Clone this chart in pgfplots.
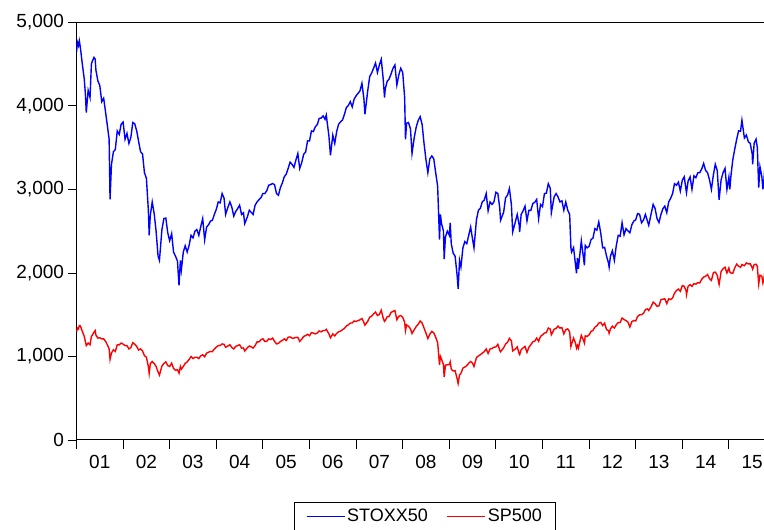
\documentclass[border=0pt]{standalone}
\usepackage{pgfplots}
\pgfplotsset{compat=1.18}
\usepackage{pgfplotstable}
\usepackage{fontspec}
\setmainfont{Liberation Sans}

\pgfplotstableread{
t s p
2001.000 4640 1290
2001.020 4760 1340
2001.042 4720 1330
2001.060 4780 1370
2001.083 4700 1366
2001.125 4500 1300
2001.167 4318 1240
2001.190 4150 1180
2001.210 3920 1130
2001.250 4185 1160
2001.290 4100 1140
2001.320 4500 1240
2001.333 4525 1249
2001.375 4580 1290
2001.400 4560 1310
2001.417 4426 1256
2001.458 4300 1220
2001.500 4243 1224
2001.542 4050 1210
2001.583 4091 1211
2001.625 3920 1180
2001.667 3744 1134
2001.700 3600 1090
2001.720 2880 966
2001.750 3297 1041
2001.792 3450 1080
2001.833 3478 1060
2001.875 3700 1140
2001.917 3658 1139
2001.958 3780 1160
2002.000 3806 1148
2002.042 3600 1130
2002.083 3670 1130
2002.125 3550 1090
2002.167 3624 1107
2002.208 3800 1165
2002.250 3785 1147
2002.292 3700 1120
2002.333 3574 1077
2002.375 3450 1090
2002.417 3425 1067
2002.458 3200 1010
2002.500 3133 990
2002.542 2750 880
2002.560 2450 797
2002.583 2685 912
2002.625 2850 940
2002.667 2710 916
2002.708 2500 880
2002.750 2204 815
2002.780 2150 777
2002.833 2519 886
2002.875 2650 915
2002.917 2657 936
2002.958 2480 890
2003.000 2386 880
2003.042 2470 920
2003.083 2249 856
2003.125 2200 835
2003.167 2141 841
2003.200 1850 800
2003.230 2150 880
2003.250 2036 848
2003.292 2250 880
2003.333 2325 917
2003.375 2250 935
2003.417 2330 964
2003.458 2450 1000
2003.500 2419 975
2003.542 2500 990
2003.583 2519 990
2003.625 2450 975
2003.667 2556 1008
2003.708 2650 1020
2003.750 2396 996
2003.792 2550 1040
2003.833 2575 1051
2003.875 2620 1060
2003.917 2631 1058
2003.958 2700 1090
2004.000 2761 1112
2004.042 2850 1130
2004.083 2839 1131
2004.125 2950 1150
2004.167 2894 1145
2004.200 2700 1110
2004.250 2787 1126
2004.292 2850 1140
2004.333 2788 1107
2004.375 2680 1090
2004.417 2736 1121
2004.458 2770 1130
2004.500 2811 1141
2004.542 2700 1100
2004.583 2720 1102
2004.610 2590 1065
2004.667 2671 1104
2004.708 2750 1125
2004.750 2726 1115
2004.790 2700 1100
2004.833 2811 1130
2004.875 2850 1175
2004.917 2877 1174
2004.958 2900 1200
2005.000 2951 1212
2005.042 2950 1180
2005.083 2984 1181
2005.125 3050 1210
2005.167 3058 1204
2005.208 3070 1220
2005.250 3056 1181
2005.292 2950 1150
2005.333 2930 1157
2005.375 3020 1180
2005.417 3076 1192
2005.458 3150 1210
2005.500 3182 1191
2005.542 3250 1230
2005.583 3326 1234
2005.625 3300 1220
2005.667 3263 1220
2005.708 3350 1230
2005.750 3429 1229
2005.790 3250 1180
2005.833 3320 1207
2005.875 3420 1240
2005.917 3448 1249
2005.958 3580 1265
2006.000 3579 1248
2006.042 3700 1285
2006.083 3692 1280
2006.125 3750 1270
2006.167 3775 1281
2006.208 3850 1305
2006.250 3853 1295
2006.292 3880 1310
2006.333 3839 1311
2006.360 3890 1325
2006.417 3637 1270
2006.450 3408 1223
2006.500 3649 1270
2006.542 3550 1245
2006.583 3692 1277
2006.625 3780 1295
2006.667 3809 1304
2006.708 3830 1320
2006.750 3899 1336
2006.792 3980 1365
2006.833 4004 1378
2006.875 4050 1400
2006.917 3987 1401
2006.958 4080 1425
2007.000 4120 1418
2007.042 4150 1430
2007.083 4178 1438
2007.125 4270 1455
2007.167 4088 1407
2007.190 3900 1375
2007.250 4182 1421
2007.292 4350 1470
2007.333 4393 1482
2007.375 4450 1510
2007.417 4512 1531
2007.458 4400 1490
2007.500 4490 1503
2007.540 4557 1553
2007.583 4316 1455
2007.610 4100 1420
2007.625 4200 1430
2007.667 4294 1474
2007.708 4320 1480
2007.750 4381 1527
2007.792 4450 1540
2007.833 4489 1549
2007.875 4250 1440
2007.917 4370 1481
2007.958 4450 1490
2008.000 4400 1468
2008.042 4100 1410
2008.060 3600 1310
2008.083 3792 1378
2008.125 3800 1360
2008.167 3724 1331
2008.200 3430 1275
2008.250 3628 1323
2008.292 3750 1360
2008.333 3826 1386
2008.375 3870 1425
2008.417 3777 1400
2008.458 3550 1340
2008.500 3352 1280
2008.540 3200 1214
2008.583 3367 1267
2008.625 3400 1300
2008.667 3365 1283
2008.708 3200 1230
2008.750 3038 1166
2008.790 2400 900
2008.810 2700 1000
2008.833 2592 969
2008.875 2500 900
2008.890 2165 752
2008.917 2430 896
2008.958 2500 900
2009.000 2451 903
2009.020 2600 935
2009.042 2350 850
2009.083 2237 826
2009.125 2200 830
2009.167 1977 735
2009.190 1810 677
2009.220 2150 780
2009.250 2071 798
2009.292 2300 860
2009.333 2375 873
2009.375 2350 890
2009.417 2451 919
2009.458 2550 940
2009.500 2401 919
2009.530 2300 880
2009.583 2638 987
2009.625 2750 1005
2009.667 2775 1021
2009.708 2850 1040
2009.750 2872 1057
2009.792 2950 1090
2009.833 2743 1036
2009.875 2850 1090
2009.917 2820 1096
2009.958 2850 1110
2010.000 2966 1115
2010.042 2950 1145
2010.083 2776 1074
2010.100 2630 1056
2010.167 2728 1104
2010.208 2900 1150
2010.250 2931 1169
2010.290 3010 1217
2010.333 2817 1187
2010.360 2490 1066
2010.417 2610 1089
2010.458 2700 1115
2010.500 2573 1031
2010.510 2490 1022
2010.542 2700 1080
2010.583 2742 1102
2010.625 2800 1120
2010.667 2623 1049
2010.708 2750 1110
2010.750 2748 1141
2010.792 2830 1175
2010.833 2845 1183
2010.875 2880 1220
2010.917 2650 1181
2010.958 2820 1240
2011.000 2793 1258
2011.042 2950 1280
2011.083 2954 1286
2011.125 3068 1340
2011.167 3013 1327
2011.190 2720 1260
2011.250 2911 1326
2011.292 2950 1335
2011.333 2910 1364
2011.375 2850 1340
2011.417 2862 1345
2011.458 2750 1270
2011.500 2849 1321
2011.542 2750 1330
2011.583 2700 1292
2011.610 2300 1120
2011.625 2250 1150
2011.667 2303 1219
2011.708 2100 1160
2011.730 1995 1100
2011.750 2180 1131
2011.770 2050 1099
2011.833 2385 1253
2011.875 2200 1200
2011.900 2090 1160
2011.917 2330 1247
2011.958 2300 1240
2012.000 2317 1258
2012.042 2400 1300
2012.083 2416 1312
2012.125 2530 1350
2012.167 2512 1366
2012.208 2610 1400
2012.250 2477 1408
2012.292 2300 1370
2012.333 2306 1398
2012.375 2200 1320
2012.417 2118 1310
2012.430 2070 1278
2012.458 2200 1330
2012.500 2265 1362
2012.542 2150 1340
2012.583 2325 1379
2012.625 2450 1405
2012.667 2440 1407
2012.708 2600 1460
2012.750 2455 1441
2012.792 2530 1430
2012.833 2503 1412
2012.875 2480 1353
2012.917 2575 1416
2012.958 2620 1430
2013.000 2636 1426
2013.042 2710 1480
2013.083 2703 1498
2013.125 2600 1500
2013.167 2633 1515
2013.208 2700 1560
2013.250 2624 1569
2013.280 2570 1550
2013.333 2712 1598
2013.375 2820 1650
2013.417 2770 1631
2013.458 2650 1600
2013.500 2603 1606
2013.542 2700 1680
2013.583 2768 1686
2013.625 2800 1690
2013.667 2721 1633
2013.708 2850 1690
2013.750 2893 1682
2013.792 2950 1700
2013.833 3068 1757
2013.875 3050 1790
2013.917 3086 1806
2013.958 2980 1780
2014.000 3109 1848
2014.042 3150 1840
2014.083 2985 1783
2014.090 2960 1741
2014.125 3100 1840
2014.167 3149 1859
2014.208 3000 1840
2014.250 3162 1872
2014.292 3140 1865
2014.333 3199 1884
2014.375 3200 1880
2014.417 3245 1924
2014.458 3310 1950
2014.500 3228 1960
2014.542 3200 1980
2014.583 3116 1931
2014.625 3000 1910
2014.667 3173 2003
2014.708 3300 2010
2014.750 3226 1972
2014.790 2875 1862
2014.833 3114 2018
2014.875 3200 2050
2014.917 3251 2068
2014.958 3000 2000
2015.000 3146 2059
2015.020 3000 2010
2015.042 3150 2000
2015.083 3352 1995
2015.125 3480 2060
2015.167 3599 2105
2015.208 3700 2080
2015.250 3697 2068
2015.280 3828 2100
2015.333 3615 2086
2015.375 3650 2120
2015.417 3571 2107
2015.458 3550 2110
2015.500 3424 2063
2015.510 3300 2045
2015.542 3550 2100
2015.583 3601 2104
2015.610 3500 2080
2015.640 3020 1868
2015.667 3270 1972
2015.708 3150 1960
2015.730 3000 1880
2015.750 3100 1920
2015.770 3250 2010
}\datatable

\begin{document}
\begin{tikzpicture}
\useasboundingbox (0pt,0pt) rectangle (764pt,530pt);
\begin{axis}[
  at={(76.5pt,90pt)}, anchor=south west,
  scale only axis, width=688.5pt, height=417.7pt,
  xmin=2001, xmax=2015.775, ymin=0, ymax=5000,
  axis line style={line width=1pt},
  tick style={black, line width=0.8pt},
  tick align=outside,
  xtick pos=bottom, ytick pos=left,
  xtick={2001,2002,...,2015}, xticklabels={},
  minor x tick num=3,
  major tick length=9pt, minor tick length=4pt,
  extra x ticks={2001.5,2002.5,...,2015.5},
  extra x tick labels={01,02,03,04,05,06,07,08,09,10,11,12,13,14,15},
  extra x tick style={major tick length=0pt, tick style={draw=none},
    tick label style={yshift=-12pt}},
  ytick={0,1000,...,5000},
  scaled y ticks=false,
  /pgf/number format/assume math mode=true,
  /pgf/number format/1000 sep={,},
  tick label style={font=\fontsize{19}{21}\selectfont},
  legend columns=2,
  legend style={at={(0.5062,-0.1484)}, anchor=north, draw=black, line width=0.8pt,
    font=\fontsize{18}{20}\selectfont, inner xsep=12pt, inner ysep=5pt,
    /tikz/every even column/.append style={column sep=17pt}},
  legend image code/.code={\draw[#1, line width=1pt] (0pt,0pt) -- (38pt,0pt);},
]
\addplot[blue, line width=1.4pt] table[x=t, y=s] {\datatable};
\addlegendentry{STOXX50}
\addplot[red, line width=1.4pt] table[x=t, y=p] {\datatable};
\addlegendentry{SP500}
\end{axis}
\end{tikzpicture}
\end{document}
